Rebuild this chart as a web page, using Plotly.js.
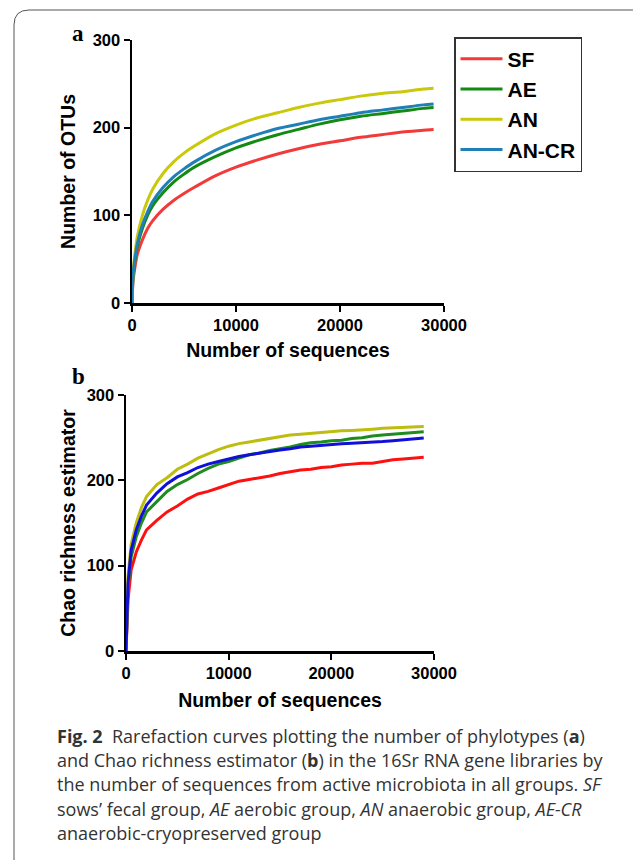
<!DOCTYPE html>
<html>
<head>
<meta charset="utf-8">
<script src="https://cdn.plot.ly/plotly-3.0.1.min.js"></script>
<style>
  html, body { margin: 0; padding: 0; background: #ffffff; }
  #chart { width: 633px; height: 860px; }
</style>
</head>
<body>
<div id="chart"></div>
<script>
// ---------- DATA ----------
const groups = ["SF", "AE", "AN", "AN-CR"];

// Panel a: rarefaction (number of OTUs)
const seqA = [0, 100, 250, 500, 1000, 1500, 2000, 3000, 4000, 5000, 6000, 8000, 10000, 12000, 14000, 16000, 18000, 20000, 22000, 24000, 26000, 28000, 29000];
const otuSF   = [0, 25, 38, 55, 72, 85, 94, 107, 117, 125, 132, 145, 155, 163, 170, 176, 181, 185, 189, 192, 195, 197, 198];
const otuAE   = [0, 30, 45, 64, 85, 100, 111, 126, 138, 147, 155, 167, 177, 185, 192, 198, 204, 209, 213, 216, 219, 222, 223];
const otuAN   = [0, 35, 53, 75, 100, 117, 130, 148, 161, 171, 179, 193, 203, 211, 217, 223, 228, 232, 236, 239, 241, 244, 245];
const otuANCR = [0, 32, 48, 67, 89, 104, 116, 132, 144, 153, 161, 174, 184, 192, 199, 204, 209, 213, 217, 220, 223, 226, 227];

// Panel b: Chao richness estimator
const seqB = [0, 100, 200, 500, 1000, 1500, 2000, 3000, 4000, 5000, 6000, 7000, 8000, 9000, 10000, 11000, 12000, 13000, 14000, 15000, 16000, 17000, 18000, 19000, 20000, 21000, 22000, 23000, 24000, 25000, 26000, 27000, 28000, 29000];
const chaoSF   = [0, 40, 60, 95, 116, 130, 142, 153, 163, 170, 178, 184, 187, 191, 195, 199, 201, 203, 205, 208, 210, 212, 213, 215, 216, 218, 219, 220, 220, 222, 224, 225, 226, 227];
const chaoAE   = [0, 55, 75, 110, 134, 150, 163, 175, 187, 195, 201, 208, 214, 219, 222, 226, 230, 232, 235, 237, 239, 242, 244, 245, 246.5, 247, 249, 250, 252, 253, 254, 255, 256, 257];
const chaoAN   = [0, 65, 88, 125, 150, 168, 181, 195, 203, 213, 219, 226, 231, 236, 240, 243, 245, 247, 249, 251, 253, 254, 255, 256, 257.5, 258, 258.5, 259, 260, 261, 261.5, 262, 262.5, 263];
const chaoANCR = [0, 60, 80, 118, 142, 158, 171, 185, 196, 204, 209, 215, 219, 222, 225, 228, 230, 232, 234, 235.5, 237, 239, 240, 241, 242.5, 243, 243.5, 244, 245, 245.5, 246.5, 247.5, 248.5, 249.5];

const xTicks = [0, 10000, 20000, 30000];
const xTickLabels = ["0", "10000", "20000", "30000"];
const yTicks = [0, 100, 200, 300];
const yTickLabels = ["0", "100", "200", "300"];

const captionLines = [
  "<b>Fig. 2</b>  Rarefaction curves plotting the number of phylotypes (<b>a</b>)",
  "and Chao richness estimator (<b>b</b>) in the 16Sr RNA gene libraries by",
  "the number of sequences from active microbiota in all groups. <i>SF</i>",
  "sows’ fecal group, <i>AE</i> aerobic group, <i>AN</i> anaerobic group, <i>AE-CR</i>",
  "anaerobic-cryopreserved group"
];

// ---------- STYLE ----------
const colorsA = ["#f23a3a", "#138a13", "#c9c90a", "#1f7fb6"];
const colorsB = ["#ff1010", "#1e8c1e", "#bdbd10", "#1010d8"];
const W = 633, H = 860;
const px = v => v / W;
const py = v => 1 - v / H;
const numFont = "Liberation Sans, Arial, Helvetica, sans-serif";

const seriesA = [otuSF, otuAE, otuAN, otuANCR];
const seriesB = [chaoSF, chaoAE, chaoAN, chaoANCR];

const traces = [];
groups.forEach((g, i) => {
  traces.push({
    x: seqA, y: seriesA[i], type: "scatter", mode: "lines", name: g,
    line: { color: colorsA[i], width: 3, shape: "spline", smoothing: 0.8 },
    xaxis: "x", yaxis: "y", showlegend: true, hoverinfo: "skip"
  });
});
groups.forEach((g, i) => {
  traces.push({
    x: seqB, y: seriesB[i], type: "scatter", mode: "lines", name: g,
    line: { color: colorsB[i], width: 3 },
    xaxis: "x2", yaxis: "y2", showlegend: false, hoverinfo: "skip"
  });
});

function axisBase(extra) {
  return Object.assign({
    showline: true, linecolor: "#000", linewidth: 2.5,
    ticks: "outside", ticklen: 6, tickwidth: 2, tickcolor: "#000",
    showgrid: false, zeroline: false, tickmode: "array",
    tickfont: { family: numFont, size: 16.5, color: "#000", weight: "bold" },
    fixedrange: true
  }, extra);
}
const titleFont = { family: numFont, size: 19.5, color: "#000", weight: "bold" };

const annotations = [
  { text: "<b>a</b>", x: px(70), y: py(19), xref: "paper", yref: "paper", showarrow: false,
    font: { family: "Liberation Serif, Times New Roman, serif", size: 23, color: "#000" } },
  { text: "<b>b</b>", x: px(70), y: py(377), xref: "paper", yref: "paper", showarrow: false,
    font: { family: "Liberation Serif, Times New Roman, serif", size: 23, color: "#000" } }
];
const capY = [736, 760, 784, 809, 833];
captionLines.forEach((t, i) => {
  annotations.push({
    text: t, x: px(55), y: py(capY[i]), xref: "paper", yref: "paper",
    xanchor: "left", yanchor: "middle", showarrow: false, align: "left",
    font: { family: "Open Sans, Noto Sans, sans-serif", size: 18, color: "#333" }
  });
});

// frame (rounded top-left corner, cropped on right and bottom)
const fx = px(14), fy = py(10), rx = 15 / W, ry = 15 / H;
const framePath = `M ${fx} 0 L ${fx} ${fy - ry} Q ${fx} ${fy} ${fx + rx} ${fy} L 1 ${fy}`;

const layout = {
  width: W, height: H,
  margin: { l: 0, r: 0, t: 0, b: 0 },
  paper_bgcolor: "#fff", plot_bgcolor: "#fff",
  showlegend: true,
  legend: {
    x: px(454), y: py(37), xanchor: "left", yanchor: "top",
    bordercolor: "#333", borderwidth: 1.5, bgcolor: "#fff",
    font: { family: numFont, size: 21, color: "#000", weight: "bold" },
    tracegroupgap: 0, itemwidth: 42
  },
  xaxis: axisBase({ domain: [px(132), px(444)], anchor: "y", range: [0, 30000],
    tickvals: xTicks, ticktext: xTickLabels,
    title: { text: "Number of sequences", font: titleFont, standoff: 10 } }),
  yaxis: axisBase({ domain: [py(303), py(40)], anchor: "x", range: [0, 300],
    tickvals: yTicks, ticktext: yTickLabels,
    title: { text: "Number of OTUs", font: titleFont, standoff: 12 } }),
  xaxis2: axisBase({ domain: [px(126), px(434)], anchor: "y2", range: [0, 30000],
    tickvals: xTicks, ticktext: xTickLabels,
    title: { text: "Number of sequences", font: titleFont, standoff: 12 } }),
  yaxis2: axisBase({ domain: [py(651), py(395)], anchor: "x2", range: [0, 300],
    tickvals: yTicks, ticktext: yTickLabels,
    title: { text: "Chao richness estimator", font: titleFont, standoff: 6 } }),
  shapes: [
    { type: "path", path: framePath, xref: "paper", yref: "paper",
      line: { color: "#555", width: 1 }, layer: "below" }
  ],
  annotations: annotations
};

Plotly.newPlot("chart", traces, layout, { staticPlot: true, displayModeBar: false });
</script>
</body>
</html>
